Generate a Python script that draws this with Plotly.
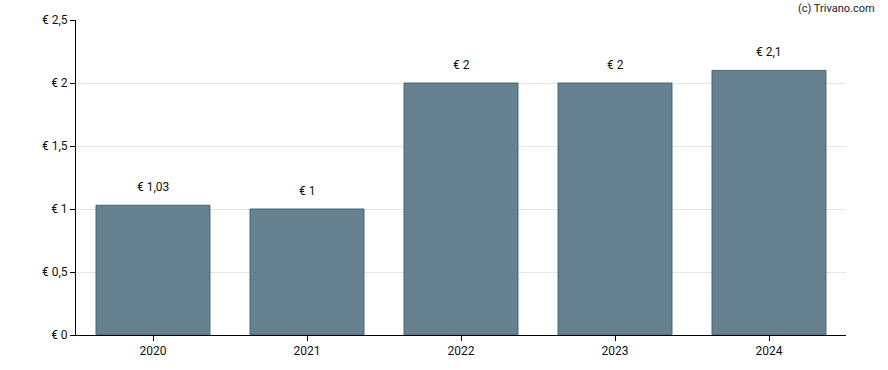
import plotly.graph_objects as go

years = ["2020", "2021", "2022", "2023", "2024"]
dividends = [1.03, 1.0, 2.0, 2.0, 2.1]
y_ticks = [0, 0.5, 1, 1.5, 2, 2.5]
y_tick_labels = ["€ 0", "€ 0,5", "€ 1", "€ 1,5", "€ 2", "€ 2,5"]

def fmt(v):
    s = ("%.2f" % v).rstrip("0").rstrip(".")
    return "€ " + s.replace(".", ",")

fig = go.Figure()
fig.add_trace(go.Bar(
    x=years, y=dividends,
    marker=dict(color="#66818f", line=dict(color="#4b6474", width=1)),
    hoverinfo="skip",
))

for i, v in enumerate(dividends):
    fig.add_annotation(x=i, y=v, text=fmt(v), showarrow=False,
                       yanchor="bottom", yshift=9,
                       font=dict(family="Roboto", size=12, color="#111111"))

fig.add_annotation(xref="paper", yref="paper", x=1.0, y=1.0, xshift=31, yshift=12,
                   xanchor="right", yanchor="middle", text="(c) Trivano.com",
                   showarrow=False, font=dict(family="Roboto", size=11, color="#222222"))

fig.update_layout(
    width=888, height=370,
    margin=dict(l=76, r=42, t=20, b=35),
    paper_bgcolor="white", plot_bgcolor="white",
    bargap=0.26,
    showlegend=False,
    font=dict(family="Roboto", size=12, color="#111111"),
    xaxis=dict(type="category", range=[-0.5, len(years) - 0.5],
               showline=True, linecolor="black", linewidth=1,
               ticks="outside", ticklen=5, tickcolor="black",
               showgrid=False, fixedrange=True),
    yaxis=dict(range=[0, 2.5], tickvals=y_ticks, ticktext=y_tick_labels,
               showline=True, linecolor="black", linewidth=1,
               ticks="outside", ticklen=5, tickcolor="black",
               showgrid=True, gridcolor="#e6e6e6", gridwidth=1,
               zeroline=False, fixedrange=True),
)

fig.write_html("out.html", config={"displayModeBar": False},
               post_script="document.body.style.margin='0';")
